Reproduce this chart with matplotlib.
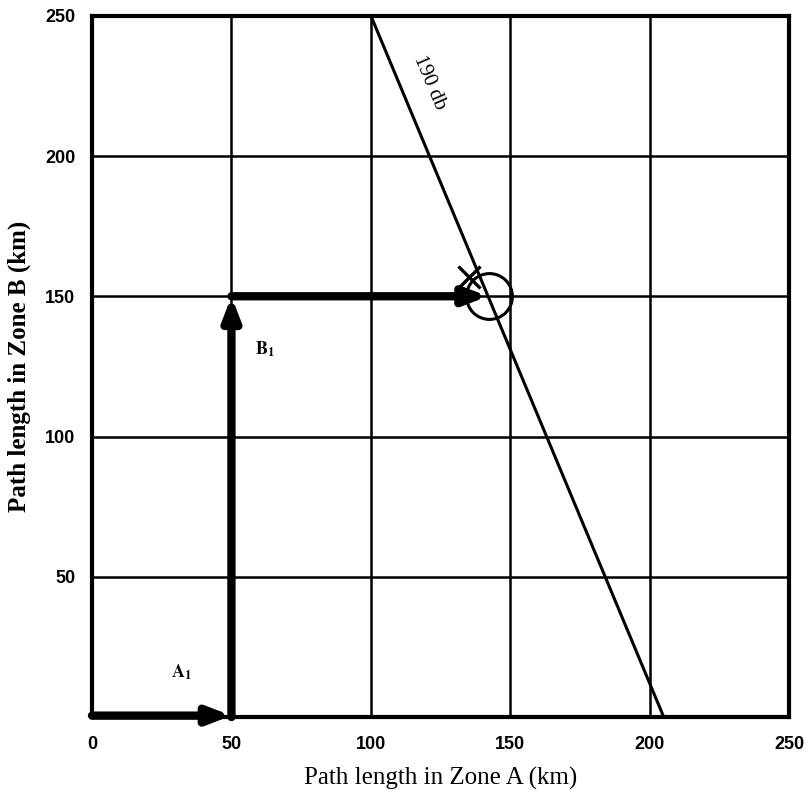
import matplotlib
matplotlib.use("Agg")
import matplotlib.pyplot as plt

plt.rcParams['mathtext.fontset'] = 'stix'

# data
x_ticks = [0, 50, 100, 150, 200, 250]
y_ticks = [50, 100, 150, 200, 250]
line_x = [100, 205]
line_y = [250, 0]
path_A = [0, 50]      # A1 leg (x extent at y=0)
path_B = [0, 150]     # B1 leg (y extent at x=50)
path_C = [50, 142]    # final leg at y=150
circle_pt = (142.5, 150)
cross_pt = (135, 157)

fig = plt.figure(figsize=(8.07, 7.96), dpi=100)
ax = fig.add_axes([0.114, 0.0992, 0.864, 0.881])
ax.set_xlim(0, 250)
ax.set_ylim(0, 250)

for v in [50, 100, 150, 200]:
    ax.axvline(v, color='black', lw=1.8, zorder=1)
    ax.axhline(v, color='black', lw=1.8, zorder=1)
for s in ax.spines.values():
    s.set_linewidth(3)

ax.plot(line_x, line_y, color='black', lw=2.2, zorder=2, solid_capstyle='butt')

akw = dict(arrowstyle='-|>,head_length=1.3,head_width=0.5', color='black', lw=6,
           shrinkA=0, shrinkB=0)
ax.annotate('', xy=(path_A[1], 0.5), xytext=(path_A[0], 0.5), arrowprops=akw, zorder=3,
            annotation_clip=False)
ax.annotate('', xy=(50, path_B[1]), xytext=(50, path_B[0]), arrowprops=akw, zorder=3)
ax.annotate('', xy=(path_C[1], 150), xytext=(path_C[0], 150), arrowprops=akw, zorder=3)

ax.plot([circle_pt[0]], [circle_pt[1]], marker='o', ms=33, mfc='none', mec='black', mew=2.2, zorder=4)
ax.plot([cross_pt[0]], [cross_pt[1]], marker='x', ms=16, mec='black', mew=2.4, zorder=4)

serif = 'Liberation Serif'
ax.text(32, 16, r'$\mathbf{A_1}$', fontsize=13, fontfamily=serif, ha='center', va='center')
ax.text(62, 131, r'$\mathbf{B_1}$', fontsize=13, fontfamily=serif, ha='center', va='center')
ax.text(121, 226, '190 db', fontsize=15, fontfamily=serif, ha='center', va='center', rotation=-67)

ax.set_xticks(x_ticks)
ax.set_yticks(y_ticks)
ax.set_xticklabels([str(v) for v in x_ticks], fontsize=13, fontweight='bold', fontfamily='Liberation Sans')
ax.set_yticklabels([str(v) for v in y_ticks], fontsize=13, fontweight='bold', fontfamily='Liberation Sans')
ax.tick_params(length=0, pad=14)
ax.tick_params(axis='y', pad=12)

ax.set_xlabel('Path length in Zone A (km)', fontsize=18, fontfamily=serif, labelpad=10)
ax.set_ylabel('Path length in Zone B (km)', fontsize=18, fontfamily=serif, fontweight='bold', labelpad=10)

fig.savefig('out.png', dpi=100)
